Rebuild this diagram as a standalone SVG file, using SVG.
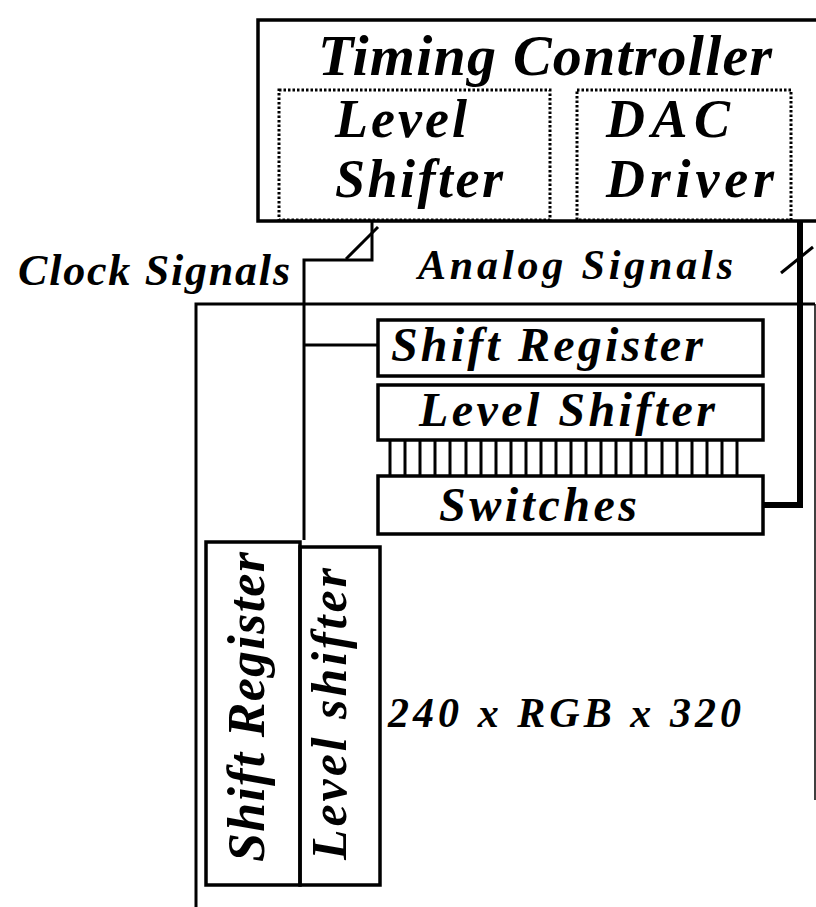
<svg xmlns="http://www.w3.org/2000/svg" width="816" height="907" viewBox="0 0 816 907">
<style>
.box{fill:none;stroke:#000;stroke-width:3.5}
.dot{fill:none;stroke:#000;stroke-width:3;stroke-dasharray:2.5,2}
.ln{fill:none;stroke:#000;stroke-width:3}
.thick{fill:none;stroke:#000;stroke-width:6}
.thin{fill:none;stroke:#000;stroke-width:1.5}
text{font-family:"Liberation Serif","Times New Roman",serif;font-weight:bold;font-style:italic;fill:#000}
</style>
<rect width="816" height="907" fill="#fff"/>
<g id="timing-controller">
<rect class="box" x="258" y="20" width="600" height="201"/>
<text x="318" y="75" font-size="58" textLength="454" lengthAdjust="spacing">Timing Controller</text>
</g>
<g id="tc-level-shifter">
<rect class="dot" x="279" y="90" width="271" height="130"/>
<text x="335" y="137" font-size="54" textLength="132" lengthAdjust="spacing">Level</text>
<text x="335" y="197" font-size="54" textLength="168" lengthAdjust="spacing">Shifter</text>
</g>
<g id="tc-dac-driver">
<rect class="dot" x="577" y="90" width="214" height="130"/>
<text x="606" y="137" font-size="54" textLength="124" lengthAdjust="spacing">DAC</text>
<text x="606" y="197" font-size="54" textLength="168" lengthAdjust="spacing">Driver</text>
</g>
<g id="panel">
<path class="ln" d="M196,907 V304 H815"/>
<path class="thin" d="M815,304 V800"/>
<text x="388" y="727" font-size="42" textLength="353" lengthAdjust="spacing">240 x RGB x 320</text>
</g>
<g id="h-shift-register">
<rect class="box" x="378" y="320" width="385" height="56"/>
<text x="391" y="361" font-size="48" textLength="312" lengthAdjust="spacing">Shift Register</text>
</g>
<g id="h-level-shifter">
<rect class="box" x="378" y="385" width="385" height="55"/>
<text x="419" y="426" font-size="48" textLength="296" lengthAdjust="spacing">Level Shifter</text>
</g>
<g id="switches">
<rect class="box" x="378" y="476" width="385" height="58"/>
<text x="439" y="521" font-size="48" textLength="198" lengthAdjust="spacing">Switches</text>
</g>
<g id="v-shift-register">
<rect class="box" x="206" y="542" width="94" height="343"/>
<text transform="translate(264,862) rotate(-90)" x="0" y="0" font-size="52" textLength="310" lengthAdjust="spacing">Shift Register</text>
</g>
<g id="v-level-shifter">
<rect class="box" x="300" y="547" width="80" height="338"/>
<text transform="translate(346,860) rotate(-90)" x="0" y="0" font-size="50" textLength="292" lengthAdjust="spacing">Level shifter</text>
</g>
<g id="labels">
<text x="18" y="285" font-size="44" textLength="272" lengthAdjust="spacing">Clock Signals</text>
<text x="418" y="279" font-size="42" textLength="315" lengthAdjust="spacing">Analog Signals</text>
</g>
<g id="connectors">
<path class="ln" d="M372,221 V260 H304 V540"/>
<path class="ln" d="M304,345 H378"/>
<path class="ln" d="M346,259 L378,227"/>
<path class="thick" d="M800,221 V505 H763"/>
<path class="ln" d="M781,273 L813,247"/>
<g class="ln">
<path d="M390,440V476M405,440V476M420,440V476M435,440V476M450,440V476M466,440V476M481,440V476M496,440V476M511,440V476M526,440V476M541,440V476M556,440V476M571,440V476M586,440V476M601,440V476M616,440V476M631,440V476M646,440V476M662,440V476M677,440V476M692,440V476M707,440V476M722,440V476M737,440V476"/>
</g>
</g>
</svg>
